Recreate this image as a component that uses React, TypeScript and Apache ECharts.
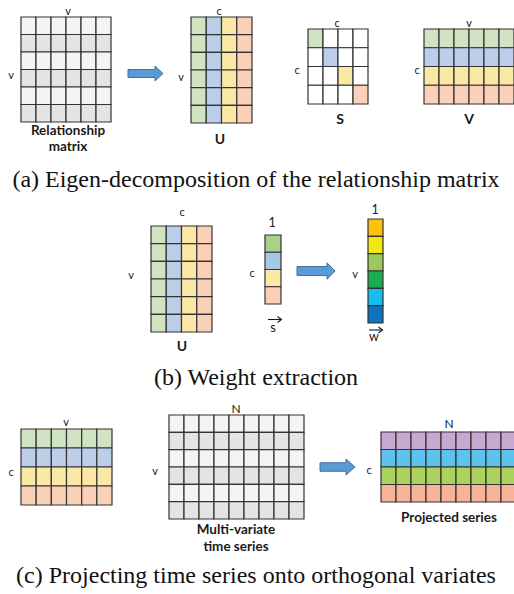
import React, { useEffect, useRef } from "react";
import * as echarts from "echarts";

// ---- data: matrix contents as colour classes ----
const relationshipRows = ["L", "D", "L", "D", "L", "D"]; // 6x6 relationship matrix (v x v)
const relationshipCols = 6;
const uColumns = ["g", "b", "y", "o"]; // U: v x c, coloured by column
const uRows = 6;
const sDiagonal = ["g", "b", "y", "o"]; // S: c x c, only diagonal coloured
const vRows = ["g", "b", "y", "o"]; // V: c x v, coloured by row
const vCols = 6;
const sVector = ["G", "B", "Y", "O"]; // s: c x 1
const wVector = ["w1", "w2", "w3", "w4", "w5", "w6"]; // w: v x 1
const timeSeriesRows = ["L", "D", "L", "D", "L", "D"]; // v x N
const timeSeriesCols = 9;
const projectedRows = ["p", "c", "l", "s"]; // c x N
const projectedCols = 9;

const palette: Record<string, string> = {
  L: "#F3F4F3",
  D: "#E3E4E5",
  W: "#FFFFFF",
  g: "#D0E4C4",
  b: "#BDCEEA",
  y: "#FCE8A5",
  o: "#FAD1B8",
  G: "#A9D18E",
  B: "#A4C8E8",
  Y: "#FDE8A4",
  O: "#F9CFB5",
  w1: "#FEC20E",
  w2: "#F2E710",
  w3: "#9DC95B",
  w4: "#1DAD51",
  w5: "#12BFEE",
  w6: "#0B74BC",
  p: "#C8A8D3",
  c: "#5CC3EF",
  l: "#ABD25D",
  s: "#F8B297",
};

type Cell = { value: [number, number]; itemStyle: { color: string } };

function cells(rows: number, cols: number, cls: (r: number, c: number) => string): Cell[] {
  const out: Cell[] = [];
  for (let r = 0; r < rows; r++)
    for (let c = 0; c < cols; c++) out.push({ value: [c, r], itemStyle: { color: palette[cls(r, c)] } });
  return out;
}

const matrices = [
  { box: [21, 17, 90, 105], rows: 6, cols: relationshipCols, data: cells(6, relationshipCols, (r) => relationshipRows[r]) },
  { box: [191, 17, 61, 106], rows: uRows, cols: 4, data: cells(uRows, 4, (_r, c) => uColumns[c]) },
  { box: [308, 29, 60, 75], rows: 4, cols: 4, data: cells(4, 4, (r, c) => (r === c ? sDiagonal[r] : "W")) },
  { box: [424, 29, 90, 75], rows: 4, cols: vCols, data: cells(4, vCols, (r) => vRows[r]) },
  { box: [151, 226, 61, 106], rows: uRows, cols: 4, data: cells(uRows, 4, (_r, c) => uColumns[c]) },
  { box: [265, 235, 16, 69], rows: 4, cols: 1, data: cells(4, 1, (r) => sVector[r]) },
  { box: [368, 219, 15, 104], rows: 6, cols: 1, data: cells(6, 1, (r) => wVector[r]) },
  { box: [21, 429, 91, 76], rows: 4, cols: vCols, data: cells(4, vCols, (r) => vRows[r]) },
  { box: [169, 415, 135, 104], rows: 6, cols: timeSeriesCols, data: cells(6, timeSeriesCols, (r) => timeSeriesRows[r]) },
  { box: [381, 432, 135, 70], rows: 4, cols: projectedCols, data: cells(4, projectedCols, (r) => projectedRows[r]) },
];

const SANS = "Lato, 'Noto Sans', sans-serif";
const SERIF = "'Liberation Serif', 'DejaVu Serif', serif";

function label(text: string, x: number, y: number, size: number, bold = false, font = SANS, color = "#1A1A1A") {
  return {
    type: "text",
    x,
    y,
    silent: true,
    style: {
      text,
      font: `${bold ? "bold " : ""}${size}px ${font}`,
      fill: color,
      textAlign: "center",
      textVerticalAlign: "middle",
      align: "center",
      verticalAlign: "middle",
    },
  };
}

function blockArrow(x0: number, x1: number, xt: number, cy: number, bh: number, hh: number) {
  return {
    type: "polygon",
    silent: true,
    shape: {
      points: [
        [x0, cy - bh / 2],
        [x1, cy - bh / 2],
        [x1, cy - hh / 2],
        [xt, cy],
        [x1, cy + hh / 2],
        [x1, cy + bh / 2],
        [x0, cy + bh / 2],
      ],
    },
    style: { fill: "#5B9BD5", stroke: "#41719C", lineWidth: 1 },
  };
}

function vecArrow(x0: number, x1: number, y: number) {
  return [
    { type: "line", silent: true, shape: { x1: x0, y1: y, x2: x1, y2: y }, style: { stroke: "#1A1A1A", lineWidth: 1.1 } },
    {
      type: "polyline",
      silent: true,
      shape: { points: [[x1 - 4, y - 3], [x1, y], [x1 - 4, y + 3]] },
      style: { stroke: "#1A1A1A", lineWidth: 1.1, fill: "none" },
    },
  ];
}

export default function App() {
  const ref = useRef<HTMLDivElement>(null);
  useEffect(() => {
    if (!ref.current) return;
    const chart = echarts.init(ref.current, undefined, { renderer: "svg" });
    const grids: any[] = [];
    const xAxes: any[] = [];
    const yAxes: any[] = [];
    const series: any[] = [];
    matrices.forEach((m, i) => {
      grids.push({ left: m.box[0], top: m.box[1], width: m.box[2], height: m.box[3], outerBoundsMode: "none" });
      xAxes.push({
        type: "category",
        gridIndex: i,
        data: Array.from({ length: m.cols }, (_v, k) => String(k)),
        show: false,
      });
      yAxes.push({
        type: "category",
        gridIndex: i,
        inverse: true,
        data: Array.from({ length: m.rows }, (_v, k) => String(k)),
        show: false,
      });
      series.push({
        type: "custom",
        xAxisIndex: i,
        yAxisIndex: i,
        silent: true,
        data: m.data,
        renderItem: (_params: any, api: any) => {
          const p = api.coord([api.value(0), api.value(1)]);
          const s = api.size([1, 1]);
          return {
            type: "rect",
            shape: { x: p[0] - s[0] / 2, y: p[1] - s[1] / 2, width: s[0], height: s[1] },
            style: { fill: api.visual("color"), stroke: "#333333", lineWidth: 1.2 },
          };
        },
      });
    });

    const graphics: any[] = [
      // (a)
      label("v", 68, 10, 11),
      label("v", 11, 74, 11),
      label("Relationship", 68, 130, 13.5, true),
      label("matrix", 68, 146, 13.5, true),
      blockArrow(128, 155, 163, 73.5, 8, 15),
      label("c", 219, 10, 11),
      label("v", 181, 76, 11),
      label("U", 220, 138, 14, true),
      label("c", 337, 22, 11),
      label("c", 297, 69, 11),
      label("S", 340, 118, 14, true),
      label("v", 469, 22, 11),
      label("c", 417, 69, 11),
      label("V", 469, 118, 14, true),
      label("(a) Eigen-decomposition of the relationship matrix", 256, 179, 24, false, SERIF, "#111"),
      // (b)
      label("c", 182, 211, 11),
      label("v", 131, 274, 11),
      label("U", 182, 345, 14, true),
      label("1", 272, 222, 12.5),
      label("c", 252, 272, 11),
      blockArrow(297, 327, 335, 271, 9, 16.5),
      label("1", 375, 209, 12.5),
      label("v", 355, 273, 11),
      label("s", 273, 327, 13),
      ...vecArrow(268, 281.5, 319.5),
      label("w", 374, 336, 12.5),
      ...vecArrow(369, 382.5, 330),
      label("(b) Weight extraction", 256, 377, 24, false, SERIF, "#111"),
      // (c)
      label("v", 66, 421, 11),
      label("c", 11, 471, 11),
      label("N", 236, 408, 12),
      label("v", 155, 470, 11),
      label("Multi-variate", 236, 529, 13.5, true),
      label("time series", 236, 546, 13.5, true),
      blockArrow(320, 346, 355, 467, 8.5, 16),
      label("N", 449, 423, 12),
      label("c", 369, 469, 11),
      label("Projected series", 449, 517, 13.5, true),
      label("(c) Projecting time series onto orthogonal variates", 256, 575, 24, false, SERIF, "#111"),
    ];

    chart.setOption({
      animation: false,
      backgroundColor: "#FFFFFF",
      grid: grids,
      xAxis: xAxes,
      yAxis: yAxes,
      series,
      graphic: { elements: graphics },
    });
    return () => chart.dispose();
  }, []);
  return (
    <div
      ref={ref}
      style={{ position: "fixed", left: 0, top: 0, width: 514, height: 594, background: "#fff" }}
    />
  );
}
